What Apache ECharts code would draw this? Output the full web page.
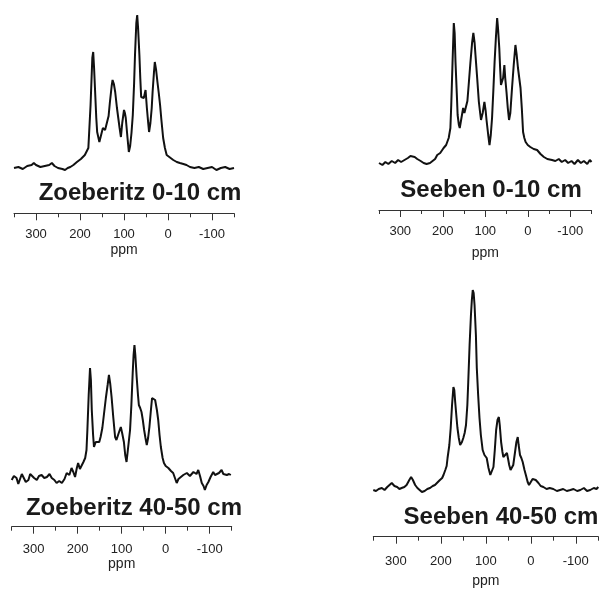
<!DOCTYPE html>
<html>
<head>
<meta charset="utf-8">
<title>13C NMR</title>
<script src="https://cdn.jsdelivr.net/npm/echarts@6/dist/echarts.min.js"></script>
<style>
	html, body { margin: 0; padding: 0; background: #fff; }
	#nmr { width: 603px; height: 589px; }
</style>
</head>
<body>
<div id="nmr"></div>
<script>
/* 化学位移 ppm, 强度 (基线 = 0) */
var zoe0 = [
	[350,0],[340,1],[330,-1],[320,2],[310,3],[305,5],[300,3],[290,1],[280,2],[270,3],[264,5],[258,2],[250,0],[240,-1],[234,-2],[228,0],[222,1],[215,3],[207,6],[198,9],[189,13],[181,20],[176,63],[172,110],[170,116],[168,100],[166,80],[163,50],[161,36],[156,26],[152,33],[148,40],[143,38],[139,38],[135,52],[132,66],[128,82],[126,88],[123,84],[120,76],[116,60],[113,50],[110,40],[107,31],[104,45],[100,58],[98,55],[96,50],[92,30],[89,16],[86,22],[83,35],[80,53],[77,85],[75,113],[72,145],[70,153],[68,140],[65,113],[63,90],[61,71],[58,72],[55,70],[51,78],[48,60],[45,45],[43,36],[40,45],[37,60],[35,76],[32,95],[30,106],[27,98],[24,86],[21,75],[18,63],[15,48],[11,30],[7,20],[3,13],[-3,11],[-12,8],[-20,6],[-27,5],[-35,4],[-42,3],[-50,1],[-60,0],[-70,1],[-80,-1],[-90,0],[-100,1],[-110,-2],[-120,0],[-130,1],[-140,-1],[-150,0]
];
var see0 = [
	[350,0],[342,-2],[335,1],[328,-1],[320,2],[312,0],[305,3],[298,1],[290,3],[282,5],[276,7],[272,8],[266,6],[260,4],[252,2],[245,0],[238,-1],[230,0],[224,2],[218,4],[213,8],[206,10],[198,15],[192,18],[186,25],[182,35],[180,58],[177,100],[174,140],[172,130],[170,101],[167,70],[165,48],[162,38],[160,35],[156,45],[152,55],[149,50],[146,50],[142,62],[139,78],[135,100],[131,120],[128,130],[125,120],[123,108],[119,85],[115,61],[112,50],[110,43],[106,50],[102,61],[99,52],[97,43],[93,28],[90,18],[87,28],[84,45],[81,72],[78,101],[75,125],[72,145],[70,135],[67,115],[65,95],[63,78],[61,80],[58,85],[55,98],[53,85],[50,71],[47,55],[44,43],[41,50],[37,75],[33,98],[29,118],[26,108],[23,95],[20,85],[17,75],[14,55],[11,31],[8,25],[5,21],[0,18],[-6,16],[-14,14],[-22,13],[-30,9],[-38,6],[-46,4],[-57,3],[-65,2],[-73,4],[-80,1],[-88,3],[-95,0],[-103,2],[-110,-1],[-118,3],[-125,0],[-132,2],[-140,-1],[-146,3],[-150,1]
];
var zoe40 = [
	[350,0],[345,4],[339,2],[335,-4],[331,-3],[327,6],[324,5],[318,-2],[312,0],[308,6],[305,7],[299,2],[293,0],[288,4],[282,5],[276,2],[270,3],[264,6],[259,2],[253,0],[248,-3],[242,-1],[236,-3],[230,1],[225,7],[219,5],[214,12],[210,8],[206,3],[202,12],[199,17],[195,11],[191,13],[187,18],[183,22],[180,30],[178,50],[175,85],[172,112],[170,100],[168,70],[165,45],[163,33],[159,38],[155,40],[151,38],[148,43],[144,52],[140,67],[136,82],[132,95],[129,105],[126,96],[123,83],[119,62],[115,43],[112,40],[110,38],[106,48],[102,53],[99,47],[95,38],[92,25],[89,18],[86,30],[83,42],[81,50],[78,75],[75,107],[73,125],[71,135],[69,125],[66,103],[63,85],[61,75],[58,72],[55,68],[52,60],[49,50],[46,42],[43,35],[40,42],[37,53],[34,68],[31,82],[27,82],[24,80],[20,70],[17,60],[14,45],[11,33],[7,22],[4,17],[0,14],[-6,12],[-12,9],[-17,7],[-21,2],[-25,-3],[-29,1],[-33,3],[-40,5],[-48,7],[-55,4],[-63,8],[-70,6],[-74,10],[-78,4],[-82,-3],[-86,-6],[-89,-10],[-93,-5],[-97,-2],[-102,3],[-108,8],[-112,5],[-116,3],[-121,7],[-127,10],[-131,6],[-135,8],[-139,5],[-144,6],[-148,5]
];
var see40 = [
	[350,0],[344,-1],[338,1],[331,2],[325,0],[319,3],[314,5],[309,7],[303,4],[297,3],[292,1],[287,2],[281,3],[276,5],[270,10],[266,13],[262,10],[257,5],[252,2],[247,0],[242,-2],[236,-1],[230,1],[224,2],[218,4],[213,5],[209,7],[202,10],[197,12],[194,15],[190,20],[187,24],[185,32],[181,45],[178,62],[175,85],[172,103],[170,100],[168,88],[165,72],[163,62],[160,52],[157,45],[153,48],[150,52],[147,57],[144,65],[141,85],[139,108],[136,145],[133,175],[131,190],[129,200],[127,197],[125,185],[122,155],[120,122],[117,95],[114,72],[111,55],[107,40],[103,35],[98,32],[94,22],[90,15],[87,17],[83,23],[80,40],[77,60],[74,70],[71,73],[69,65],[66,48],[63,38],[61,33],[57,35],[53,37],[50,30],[48,25],[45,20],[42,18],[39,25],[35,38],[32,48],[29,53],[27,45],[24,35],[21,32],[18,28],[14,20],[11,15],[7,8],[4,5],[0,7],[-4,11],[-7,12],[-11,10],[-17,7],[-22,4],[-28,3],[-35,1],[-42,2],[-50,1],[-58,-1],[-65,0],[-72,1],[-80,-1],[-88,0],[-95,1],[-103,-1],[-110,0],[-118,2],[-125,-1],[-132,0],[-140,2],[-146,1],[-150,3]
];
var sampleNames = ['Zoeberitz 0-10 cm', 'Seeben 0-10 cm', 'Zoeberitz 40-50 cm', 'Seeben 40-50 cm'];
var tickLabels = [300, 200, 100, 0, -100];

/* 四个小图的位置 */
var panels = [
	{ left: 14, top: 15, width: 220, height: 198.3, ymin: -45.3, ymax: 153, margin: 15, gap: 30, tx: 140, ty: 193 },
	{ left: 379, top: 18, width: 212.5, height: 192, ymin: -47, ymax: 145, margin: 15, gap: 36, tx: 491, ty: 190 },
	{ left: 11.7, top: 345, width: 220, height: 181.7, ymin: -46.7, ymax: 135, margin: 16, gap: 30, tx: 134, ty: 508 },
	{ left: 373.3, top: 290, width: 225, height: 246.7, ymin: -46.7, ymax: 200, margin: 18, gap: 37, tx: 501, ty: 517 }
];
var spectra = [zoe0, see0, zoe40, see40];

window.onload = function() {
	var chart = echarts.init(document.getElementById('nmr'));
	var grid = [], xAxis = [], yAxis = [], series = [], texts = [];
	for (var i = 0; i < 4; i++) {
		var p = panels[i];
		grid.push({ left: p.left, top: p.top, width: p.width, height: p.height });
		// 短刻度, 每 50 ppm
		xAxis.push({
			gridIndex: i,
			type: 'value',
			position: 'bottom',
			offset: 0,
			min: -150,
			max: 350,
			interval: 50,
			inverse: true,
			axisLine: { show: true, onZero: false, lineStyle: { color: '#333', width: 1 } },
			axisTick: { show: true, inside: false, length: 4, lineStyle: { color: '#333' } },
			axisLabel: { show: false },
			splitLine: { show: false }
		});
		// 长刻度 + 标签, 每 100 ppm
		xAxis.push({
			gridIndex: i,
			type: 'value',
			position: 'bottom',
			offset: 0,
			min: -150,
			max: 350,
			interval: 50,
			inverse: true,
			name: 'ppm',
			nameLocation: 'middle',
			nameGap: p.gap,
			nameTextStyle: { color: '#222', fontSize: 14, fontFamily: 'Liberation Sans' },
			axisLine: { show: false, onZero: false },
			axisTick: { show: true, inside: false, length: 7, customValues: tickLabels, lineStyle: { color: '#333' } },
			axisLabel: {
				margin: p.margin,
				color: '#222',
				fontSize: 13,
				fontFamily: 'Liberation Sans',
				customValues: tickLabels
			},
			splitLine: { show: false }
		});
		yAxis.push({
			gridIndex: i,
			type: 'value',
			min: p.ymin,
			max: p.ymax,
			show: false
		});
		series.push({
			type: 'line',
			xAxisIndex: i * 2,
			yAxisIndex: i,
			data: spectra[i],
			showSymbol: false,
			symbol: 'none',
			lineStyle: { color: '#111', width: 2 }
		});
		texts.push({
			type: 'text',
			x: p.tx,
			y: p.ty,
			style: {
				text: sampleNames[i],
				fill: '#1a1a1a',
				font: 'bold 24px "Liberation Sans"',
				textAlign: 'center',
				textVerticalAlign: 'middle'
			}
		});
	}
	chart.setOption({
		animation: false,
		backgroundColor: '#fff',
		grid: grid,
		xAxis: xAxis,
		yAxis: yAxis,
		series: series,
		graphic: texts
	});
};
</script>
</body>
</html>
